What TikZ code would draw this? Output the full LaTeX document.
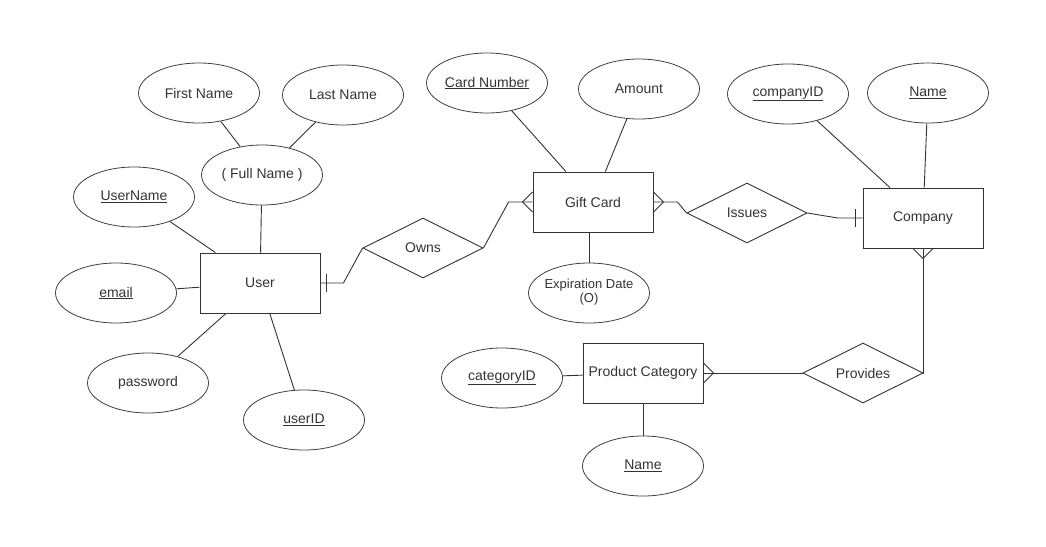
\documentclass[tikz,border=0pt]{standalone}
\usepackage{fontspec}
\setmainfont{Liberation Sans}
\usetikzlibrary{shapes.geometric,calc}
\newcommand{\zb}[1]{\makebox[0pt]{#1}}
\begin{document}
\begin{tikzpicture}[x=1pt,y=-1pt,
  every node/.style={text=black!80, font=\fontsize{14}{16}\selectfont},
  ent/.style={draw=black!80, line width=0.9pt, rectangle, minimum width=120pt, minimum height=60pt, inner sep=0pt},
  attr/.style={draw=black!75, line width=0.8pt, ellipse, minimum width=121pt, minimum height=60pt, inner sep=0pt},
  rel/.style={draw=black!80, line width=0.9pt, diamond, aspect=2, minimum width=120pt, minimum height=60pt, inner sep=0pt},
  conn/.style={draw=black!80, line width=0.9pt}]
\useasboundingbox (0,0) rectangle (1046,546);

% entities
\node[ent] (user) at (260,283) {User};
\node[ent] (gift) at (593,202) {Gift Card};
\node[ent] (company) at (923,218) {Company};
\node[ent] (pc) at (643,373) {Product Category};

% relationships
\node[rel] (owns) at (423,248) {Owns};
\node[rel] (issues) at (747,213) {Issues};
\node[rel] (provides) at (863,373) {Provides};

% attributes
\node[attr] (first) at (199,93) {\zb{First Name}};
\node[attr] (last) at (343,95) {\zb{Last Name}};
\node[attr] (full) at (262,175) {\zb{( Full Name )}};
\node[attr] (uname) at (134,197) {\zb{\underline{UserName}}};
\node[attr] (email) at (116,293) {\zb{\underline{email}}};
\node[attr] (pwd) at (148,383) {\zb{password}};
\node[attr] (uid) at (304,420) {\zb{\underline{userID}}};
\node[attr] (cardno) at (487,83) {\zb{\underline{Card Number}}};
\node[attr] (amount) at (639,89) {\zb{Amount}};
\node[attr] (exp) at (589,293) {\zb{\fontsize{13}{14}\selectfont\begin{tabular}{@{}c@{}}Expiration Date\\(O)\end{tabular}}};
\node[attr] (cid) at (788,94) {\zb{\underline{companyID}}};
\node[attr] (cname) at (928,93) {\zb{\underline{Name}}};
\node[attr] (catid) at (502,378) {\zb{\underline{categoryID}}};
\node[attr] (pcname) at (643,466) {\zb{\underline{Name}}};

% attribute links
\draw[conn] (first) -- (full);
\draw[conn] (last) -- (full);
\draw[conn] (full) -- (user);
\draw[conn] (uname) -- (user);
\draw[conn] (email) -- (user);
\draw[conn] (pwd) -- (user);
\draw[conn] (uid) -- (user);
\draw[conn] (cardno) -- (gift);
\draw[conn] (amount) -- (gift);
\draw[conn] (exp.north) -- (exp.north |- gift.south);
\draw[conn] (cid) -- (company);
\draw[conn] (cname) -- (company);
\draw[conn] (catid) -- (pc);
\draw[conn] (pcname.north) -- (pcname.north |- pc.south);

% User -- Owns -- Gift Card
\draw[conn] (user.east) -- ++(23,0) -- (owns.west);
\draw[conn] ($(user.east)+(6,-9)$) -- ++(0,18);
\draw[conn] (owns.east) -- ($(gift.west)+(-24,0)$) -- (gift.west);
\draw[conn] ($(gift.west)+(0,-10)$) -- ($(gift.west)+(-10,0)$) -- ($(gift.west)+(0,10)$);

% Gift Card -- Issues -- Company
\draw[conn] (gift.east) -- ++(24,0) -- (issues.west);
\draw[conn] ($(gift.east)+(0,-10)$) -- ($(gift.east)+(10,0)$) -- ($(gift.east)+(0,10)$);
\draw[conn] (issues.east) -- ($(company.west)+(-25,0)$) -- (company.west);
\draw[conn] ($(company.west)+(-7,-9)$) -- ++(0,18);

% Company -- Provides -- Product Category
\draw[conn] (company.south) -- (company.south |- provides.east) -- (provides.east);
\draw[conn] ($(company.south)+(-10,0)$) -- ($(company.south)+(0,10)$) -- ($(company.south)+(10,0)$);
\draw[conn] (provides.west) -- (pc.east);
\draw[conn] ($(pc.east)+(0,-10)$) -- ($(pc.east)+(10,0)$) -- ($(pc.east)+(0,10)$);
\end{tikzpicture}
\end{document}
